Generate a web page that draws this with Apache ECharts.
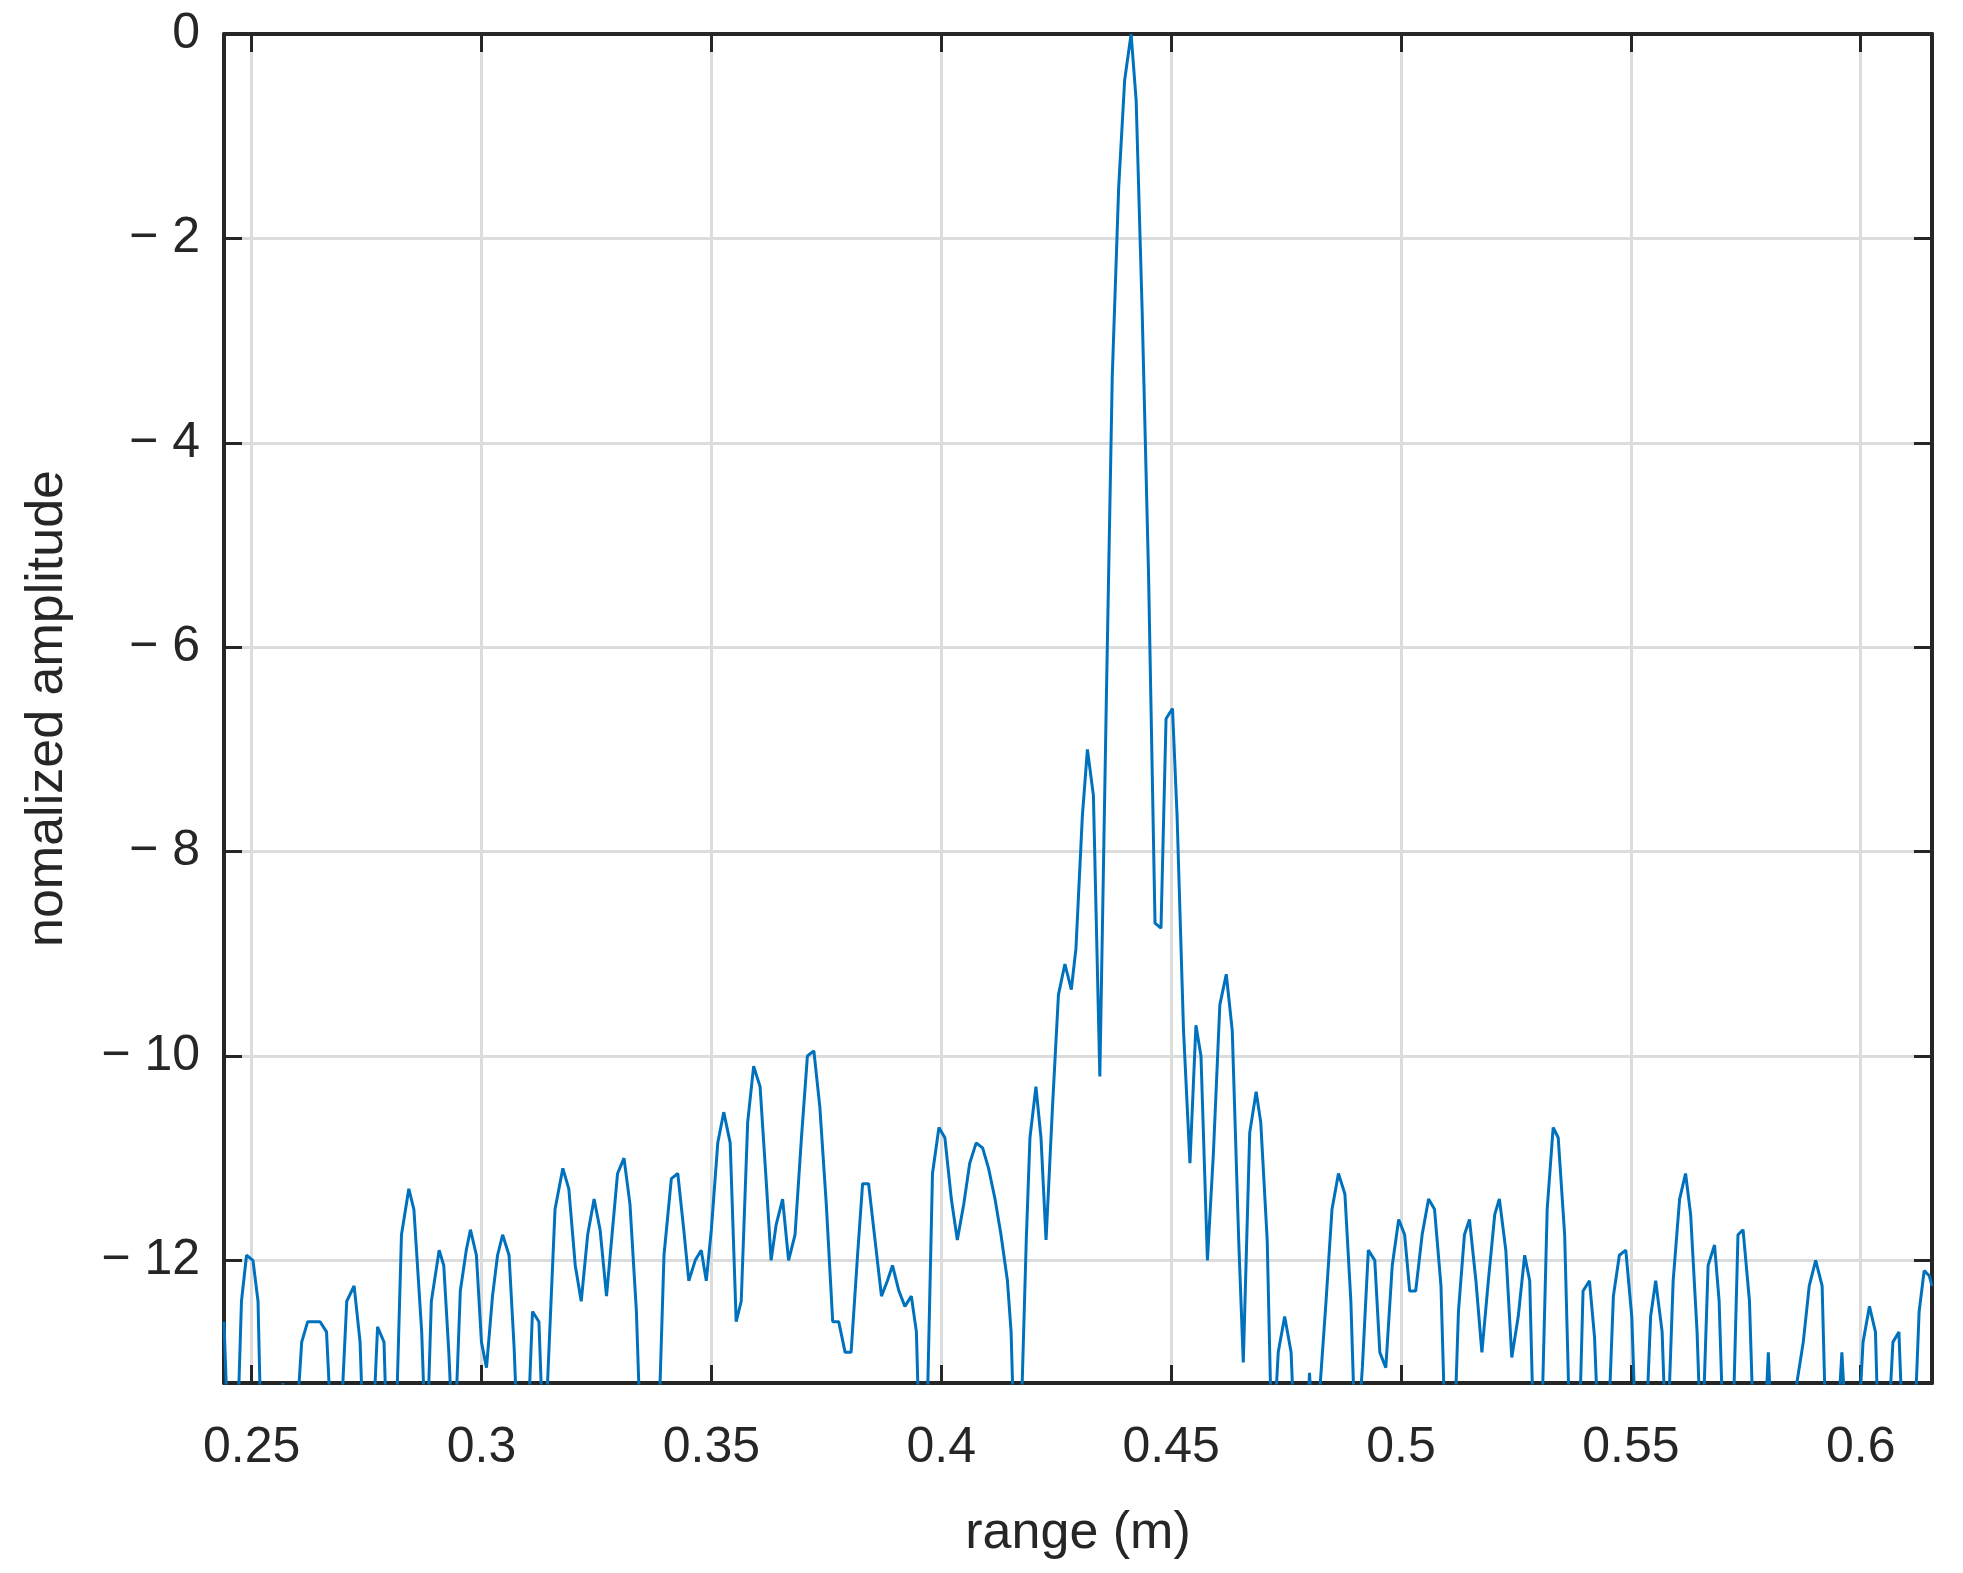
<!DOCTYPE html>
<html><head><meta charset="utf-8">
<script src="https://cdn.jsdelivr.net/npm/echarts@6/dist/echarts.min.js"></script>
<style>html,body{margin:0;padding:0;background:#fff}#c{width:1963px;height:1573px}</style>
</head><body><div id="c"></div>
<script>
const rangeM = [0.2440,0.2451,0.2467,0.2478,0.2489,0.2503,0.2514,0.2522,0.2560,0.2568,0.2576,0.2592,0.2609,0.2622,0.2649,0.2663,0.2677,0.2690,0.2707,0.2723,0.2736,0.2745,0.2761,0.2774,0.2788,0.2796,0.2812,0.2826,0.2842,0.2853,0.2870,0.2880,0.2891,0.2908,0.2918,0.2929,0.2940,0.2954,0.2967,0.2976,0.2989,0.3000,0.3011,0.3024,0.3035,0.3046,0.3060,0.3071,0.3081,0.3098,0.3111,0.3125,0.3136,0.3160,0.3177,0.3190,0.3204,0.3217,0.3231,0.3245,0.3258,0.3272,0.3285,0.3296,0.3310,0.3323,0.3337,0.3348,0.3383,0.3397,0.3413,0.3427,0.3440,0.3451,0.3465,0.3478,0.3489,0.3500,0.3514,0.3527,0.3541,0.3554,0.3565,0.3579,0.3592,0.3606,0.3619,0.3630,0.3641,0.3655,0.3668,0.3682,0.3696,0.3709,0.3723,0.3736,0.3750,0.3764,0.3777,0.3791,0.3804,0.3818,0.3829,0.3842,0.3856,0.3870,0.3883,0.3894,0.3908,0.3921,0.3935,0.3946,0.3954,0.3967,0.3981,0.3995,0.4008,0.4022,0.4035,0.4049,0.4062,0.4076,0.4090,0.4103,0.4117,0.4130,0.4144,0.4152,0.4160,0.4171,0.4185,0.4193,0.4206,0.4217,0.4228,0.4242,0.4255,0.4269,0.4283,0.4293,0.4307,0.4318,0.4331,0.4345,0.4359,0.4372,0.4386,0.4399,0.4413,0.4424,0.4437,0.4451,0.4465,0.4478,0.4489,0.4503,0.4513,0.4527,0.4541,0.4554,0.4565,0.4579,0.4592,0.4606,0.4620,0.4633,0.4647,0.4657,0.4671,0.4685,0.4695,0.4709,0.4720,0.4733,0.4747,0.4761,0.4771,0.4793,0.4801,0.4812,0.4837,0.4850,0.4864,0.4878,0.4891,0.4902,0.4916,0.4929,0.4943,0.4954,0.4967,0.4981,0.4995,0.5008,0.5019,0.5032,0.5046,0.5060,0.5073,0.5087,0.5098,0.5114,0.5125,0.5138,0.5149,0.5163,0.5176,0.5190,0.5204,0.5214,0.5228,0.5241,0.5255,0.5269,0.5280,0.5290,0.5304,0.5318,0.5331,0.5342,0.5356,0.5369,0.5386,0.5396,0.5410,0.5421,0.5432,0.5448,0.5462,0.5475,0.5489,0.5502,0.5513,0.5530,0.5543,0.5554,0.5568,0.5578,0.5592,0.5606,0.5619,0.5630,0.5644,0.5654,0.5668,0.5682,0.5692,0.5703,0.5720,0.5733,0.5744,0.5758,0.5769,0.5788,0.5799,0.5809,0.5842,0.5861,0.5875,0.5888,0.5902,0.5916,0.5926,0.5945,0.5959,0.5972,0.5991,0.6005,0.6019,0.6032,0.6040,0.6056,0.6070,0.6083,0.6094,0.6114,0.6127,0.6138,0.6149,0.6155];
const amplitude = [-12.6,-14,-14,-12.4,-11.95,-12.0,-12.4,-14,-14,-13.2,-14,-14,-12.8,-12.6,-12.6,-12.7,-14,-14,-12.4,-12.25,-12.8,-14,-14,-12.65,-12.8,-14,-14,-11.75,-11.3,-11.5,-12.7,-14,-12.4,-11.9,-12.05,-12.9,-14,-12.3,-11.9,-11.7,-11.95,-12.8,-13.05,-12.35,-11.95,-11.75,-11.95,-12.85,-14,-14,-12.5,-12.6,-14,-11.5,-11.1,-11.3,-12.05,-12.4,-11.75,-11.4,-11.7,-12.35,-11.7,-11.15,-11.0,-11.45,-12.5,-14,-14,-11.95,-11.2,-11.15,-11.7,-12.2,-12.0,-11.9,-12.2,-11.7,-10.85,-10.55,-10.85,-12.6,-12.4,-10.65,-10.1,-10.3,-11.2,-12.0,-11.65,-11.4,-12.0,-11.75,-10.8,-10.0,-9.95,-10.5,-11.45,-12.6,-12.6,-12.9,-12.9,-11.95,-11.25,-11.25,-11.8,-12.35,-12.2,-12.05,-12.3,-12.45,-12.35,-12.7,-14,-14,-11.15,-10.7,-10.8,-11.4,-11.8,-11.45,-11.05,-10.85,-10.9,-11.1,-11.4,-11.75,-12.2,-12.7,-14,-14,-11.8,-10.8,-10.3,-10.8,-11.8,-10.5,-9.4,-9.1,-9.35,-8.95,-7.65,-7.0,-7.45,-10.2,-6.55,-3.35,-1.5,-0.45,0,-0.65,-2.7,-5.3,-8.7,-8.75,-6.7,-6.6,-7.65,-9.75,-11.05,-9.7,-10.0,-12.0,-10.95,-9.5,-9.2,-9.75,-11.8,-13.0,-10.75,-10.35,-10.65,-11.8,-14,-12.9,-12.55,-12.9,-14,-14,-13.1,-14,-12.4,-11.5,-11.15,-11.35,-12.4,-14,-13.05,-11.9,-12.0,-12.9,-13.05,-12.05,-11.6,-11.75,-12.3,-12.3,-11.75,-11.4,-11.5,-12.25,-14,-14,-12.5,-11.75,-11.6,-12.2,-12.9,-12.2,-11.55,-11.4,-11.9,-12.95,-12.55,-11.95,-12.2,-14,-14,-11.5,-10.7,-10.8,-11.75,-14,-14,-12.3,-12.2,-12.75,-14,-14,-12.35,-11.95,-11.9,-12.55,-14,-14,-12.55,-12.2,-12.7,-14,-12.2,-11.4,-11.15,-11.55,-12.7,-14,-12.05,-11.85,-12.4,-14,-14,-11.75,-11.7,-12.4,-14,-14,-12.9,-14,-14,-13.2,-12.8,-12.25,-12.0,-12.25,-14,-14,-12.9,-14,-14,-12.8,-12.45,-12.7,-14,-14,-12.8,-12.7,-14,-14,-12.5,-12.1,-12.15,-12.25];
const xTicks = [0.25,0.3,0.35,0.4,0.45,0.5,0.55,0.6];
const yTicks = [0,-2,-4,-6,-8,-10,-12];

const F = '"Liberation Sans", Arial, sans-serif';
const ink = '#262626';
const chart = echarts.init(document.getElementById('c'));
const gridLine = {show:true, lineStyle:{color:'#dcdcdc', width:3}};
const tickIn = (vals)=>({show:true, inside:true, length:18, lineStyle:{color:ink, width:3}, customValues:vals});
chart.setOption({
  animation:false,
  grid:{left:224, top:34, width:1708, height:1349, show:false},
  xAxis:[{
    type:'value', min:0.244, max:0.6155, position:'bottom',
    axisLine:{show:true, onZero:false, lineStyle:{color:ink, width:4}},
    axisTick:tickIn(xTicks), splitLine:gridLine,
    axisLabel:{customValues:xTicks, color:ink, fontFamily:F, fontSize:50, margin:40, formatter:v=>String(+v.toFixed(2))},
    name:'range (m)', nameLocation:'middle', nameGap:125, nameTextStyle:{color:ink, fontFamily:F, fontSize:52}
  },{
    type:'value', min:0.244, max:0.6155, position:'top',
    axisLine:{show:true, onZero:false, lineStyle:{color:ink, width:4}},
    axisTick:tickIn(xTicks), axisLabel:{show:false}, splitLine:{show:false}
  }],
  yAxis:[{
    type:'value', min:-13.2, max:0, position:'left',
    axisLine:{show:true, onZero:false, lineStyle:{color:ink, width:4}},
    axisTick:tickIn(yTicks), splitLine:gridLine,
    axisLabel:{customValues:yTicks, color:ink, fontFamily:F, fontSize:50, margin:24, formatter:v=>v===0?'0':'\u2212 '+Math.abs(Math.round(v))},
    name:'nomalized amplitude', nameLocation:'middle', nameGap:150, nameRotate:90, nameTextStyle:{color:ink, fontFamily:F, fontSize:52}
  },{
    type:'value', min:-13.2, max:0, position:'right',
    axisLine:{show:true, onZero:false, lineStyle:{color:ink, width:4}},
    axisTick:tickIn(yTicks), axisLabel:{show:false}, splitLine:{show:false}
  }],
  series:[{
    type:'line', data:rangeM.map((x,i)=>[x, amplitude[i]]),
    showSymbol:false, clip:true, lineStyle:{color:'#0072BD', width:3}
  }]
});
</script></body></html>
